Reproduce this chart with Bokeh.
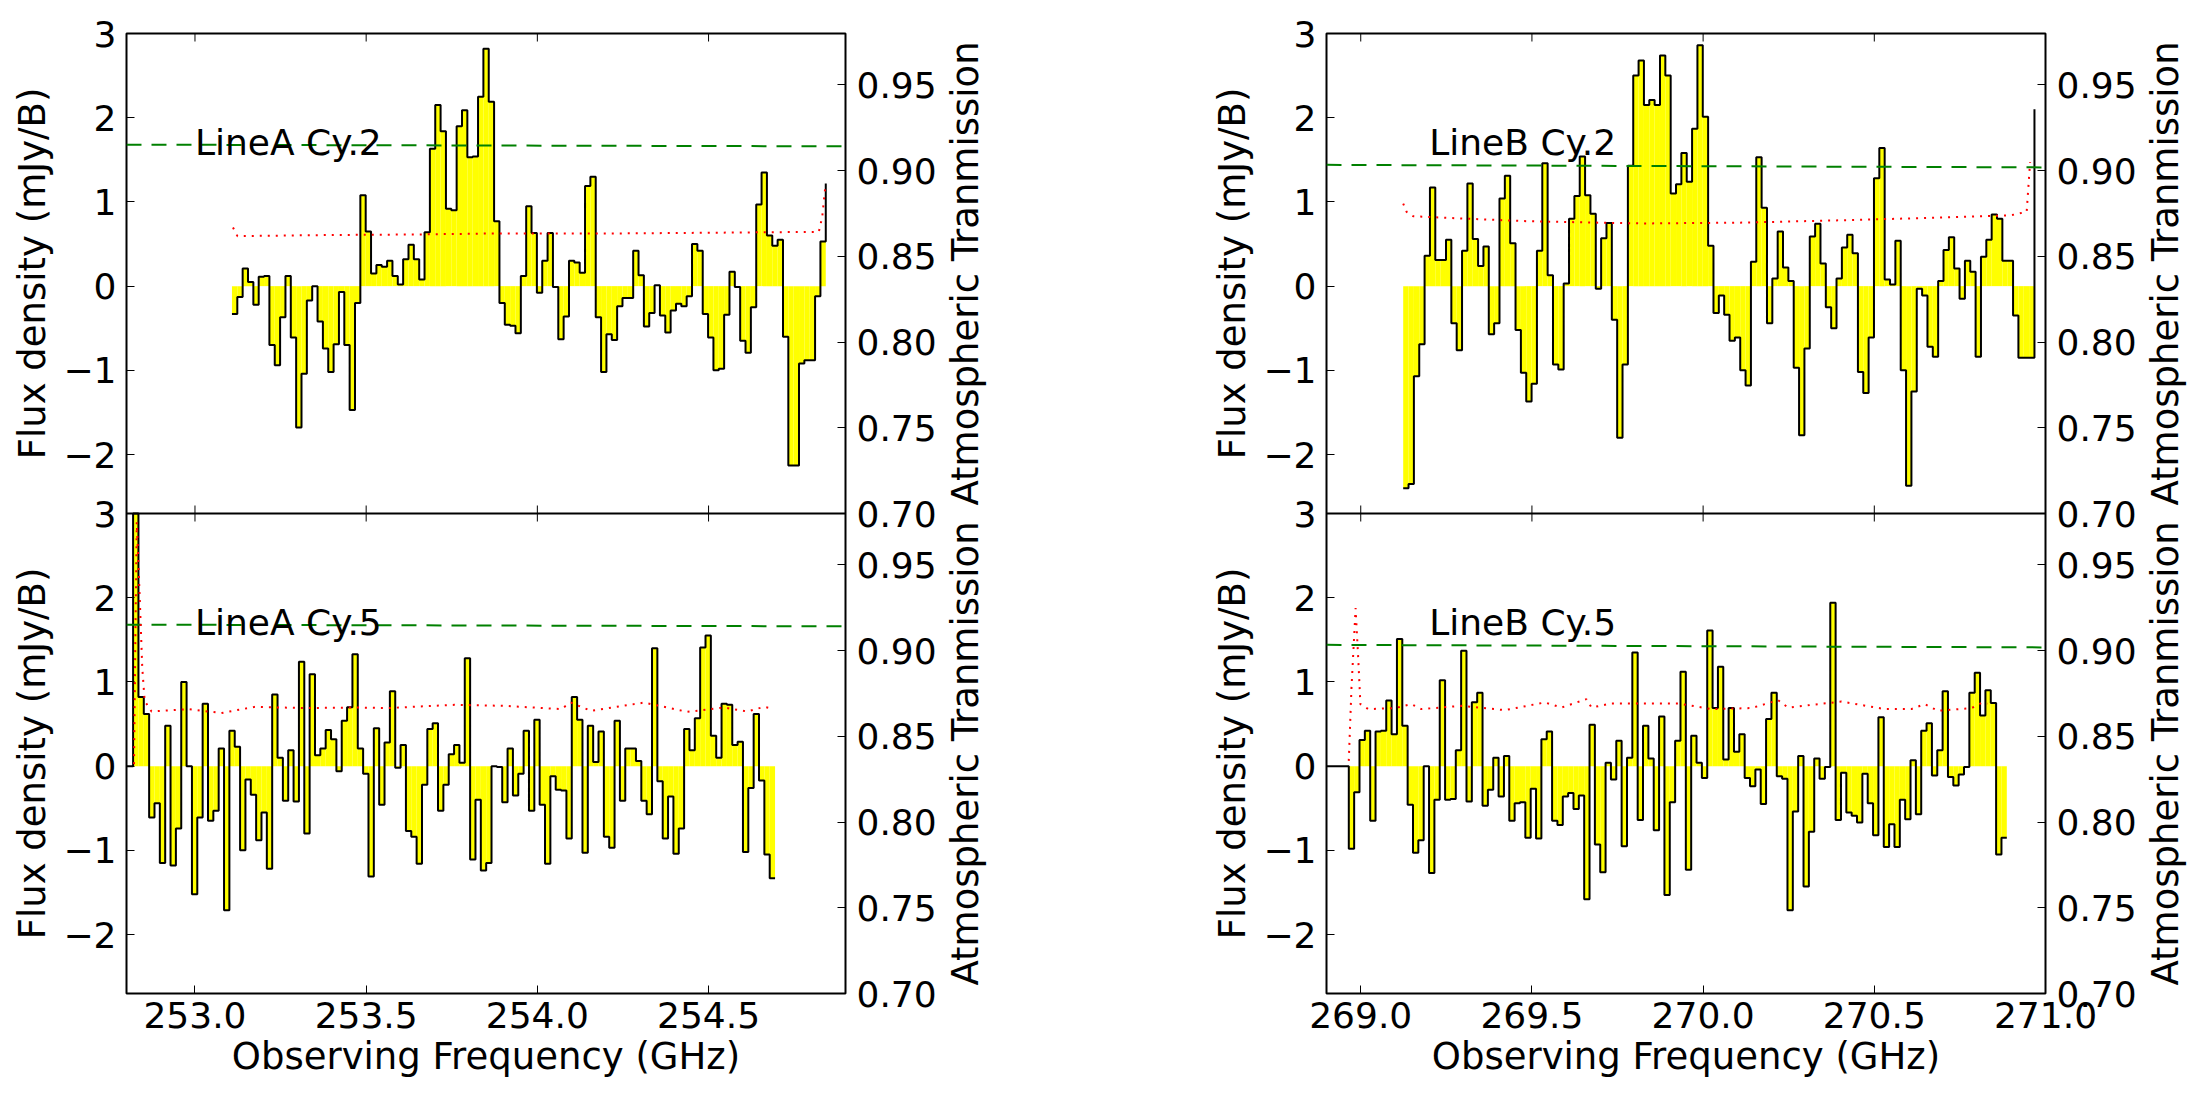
import math
import numpy as np
from bokeh.plotting import figure
from bokeh.models import (Range1d, LinearAxis, FixedTicker, Label, NumeralTickFormatter,
                          CustomJSTickFormatter, ColumnDataSource, Span, Spacer)
from bokeh.transform import dodge
from bokeh.layouts import column, row
from bokeh.embed import file_html
from bokeh.resources import INLINE

FONT = "DejaVu Sans"
DF = 0.015625  # channel width (GHz)

# ---------------- data ----------------
a2_start = 253.108
a2_flux = [-0.33, -0.13, 0.21, 0.05, -0.22, 0.11, 0.12, -0.70, -0.94, -0.37,
           0.12, -0.61, -1.68, -1.04, -0.17, 0.00, -0.42, -0.74, -1.02, -0.69,
           -0.07, -0.70, -1.47, -0.20, 1.08, 0.65, 0.15, 0.25, 0.23, 0.30,
           0.12, 0.02, 0.32, 0.49, 0.32, 0.08, 0.64, 1.63, 2.15, 1.84,
           0.92, 0.90, 1.90, 2.09, 1.53, 1.54, 2.25, 2.82, 2.19, 0.77,
           -0.20, -0.46, -0.47, -0.56, 0.12, 0.95, 0.63, -0.08, 0.30, 0.63,
           -0.01, -0.63, -0.36, 0.30, 0.28, 0.16, 1.19, 1.30, -0.37, -1.02,
           -0.57, -0.64, -0.24, -0.14, -0.14, 0.42, 0.13, -0.48, -0.32, 0.01,
           -0.35, -0.55, -0.29, -0.21, -0.24, -0.12, 0.50, 0.42, -0.33, -0.61,
           -1.00, -0.98, -0.34, 0.17, -0.01, -0.65, -0.79, -0.25, 0.97, 1.35,
           0.60, 0.48, 0.55, -0.60, -2.13, -2.13, -0.92, -0.88, -0.88, -0.12,
           0.53, 1.22]

a5_start = 252.788
a5_flux = [0.0, 0.0,
           4.0, 0.82, 0.62, -0.61, -0.44, -1.15, 0.48, -1.18, -0.74, 1.00,
           0.00, -1.52, -0.61, 0.74, -0.65, -0.53, 0.21, -1.71, 0.42, 0.23,
           -1.00, -0.16, -0.34, -0.88, -0.55, -1.22, 0.85, 0.10, -0.41, 0.19,
           -0.42, 1.24, -0.80, 1.09, 0.13, 0.21, 0.43, 0.32, -0.06, 0.54,
           0.70, 1.33, 0.21, -0.09, -1.31, 0.45, -0.46, 0.28, 0.89, -0.02,
           0.25, -0.77, -0.84, -1.16, -0.22, 0.44, 0.51, -0.53, -0.22, 0.14,
           0.25, 0.04, 1.28, -1.11, -0.40, -1.24, -1.15, 0.00, -0.01, -0.43,
           0.21, -0.35, -0.09, 0.42, -0.53, 0.55, -0.46, -1.16, -0.12, -0.28,
           -0.29, -0.86, 0.82, 0.55, -1.03, 0.48, 0.05, 0.41, -0.84, -0.97,
           0.54, -0.41, 0.21, 0.21, 0.06, -0.41, -0.57, 1.40, -0.18, -0.86,
           -0.36, -1.04, -0.74, 0.44, 0.19, 0.57, 1.41, 1.55, 0.36, 0.10,
           0.74, 0.73, 0.25, 0.29, -1.02, -0.26, 0.62, -0.17, -1.05, -1.33,
           -1.33]

b2_start = 269.124
b2_flux = [-2.40, -2.35, -1.07, -0.69, 0.36, 1.17, 0.31, 0.31, 0.55, -0.44,
           -0.76, 0.42, 1.22, 0.56, 0.24, 0.47, -0.57, -0.44, 1.04, 1.31,
           0.51, -0.52, -1.03, -1.37, -1.16, 0.42, 1.46, 0.13, -0.93, -0.99,
           0.03, 0.80, 1.07, 1.54, 1.08, 0.86, -0.03, 0.57, 0.75, -0.40,
           -1.80, -0.93, 1.43, 2.50, 2.68, 2.15, 2.21, 2.15, 2.74, 2.50,
           1.10, 1.21, 1.58, 1.24, 1.87, 2.86, 2.01, 0.48, -0.32, -0.11,
           -0.34, -0.65, -0.61, -1.00, -1.18, 0.29, 1.53, 0.93, -0.44, 0.09,
           0.65, 0.22, 0.06, -0.97, -1.77, -0.74, 0.59, 0.74, 0.27, -0.25,
           -0.50, 0.09, 0.46, 0.61, 0.39, -1.02, -1.27, -0.61, 1.28, 1.64,
           0.08, 0.02, 0.54, -1.00, -2.37, -1.25, -0.03, -0.11, -0.72, -0.84,
           0.06, 0.43, 0.58, 0.21, -0.15, 0.30, 0.17, -0.84,
           0.35, 0.55, 0.85, 0.80, 0.30, 0.30, -0.35, -0.85, -0.85, -0.85, 2.10]

b5_start = 268.887
b5_flux = [0.0, 0.0, 0.0, 0.0, 0.0,
           -0.98, -0.31, 0.31, 0.42, -0.65, 0.41, 0.42, 0.78, 0.38, 1.51,
           0.48, -0.46, -1.03, -0.88, 0.00, -1.27, -0.40, 1.02, -0.40, -0.39,
           0.19, 1.37, -0.42, 0.76, 0.87, -0.47, -0.28, 0.10, -0.36, 0.12,
           -0.65, -0.44, -0.43, -0.85, -0.27, -0.86, 0.32, 0.41, -0.65, -0.70,
           -0.36, -0.32, -0.51, -0.35, -1.58, 0.49, -0.93, -1.26, 0.04, -0.16,
           0.30, -0.95, 0.10,
           1.35, -0.64, 0.48, 0.09, -0.76, 0.59, -1.53, -0.43, 0.30, 1.12,
           -1.23, 0.36, 0.04, -0.14, 1.61, 0.69, 1.18, 0.08, 0.69, 0.17,
           0.38, -0.14, -0.24, -0.04, -0.45, 0.56, 0.87, -0.12, -0.15, -1.71,
           -0.54, 0.12, -1.43, -0.78, 0.09, -0.15, -0.01, 1.94, -0.64, -0.08,
           -0.55, -0.59, -0.67, -0.09, -0.44, -0.82, 0.58, -0.96, -0.69, -0.96,
           -0.40, -0.63, 0.07, -0.57, 0.42, 0.51, -0.11, 0.19, 0.89, -0.13,
           -0.23, -0.10, -0.01, 0.87, 1.11,
           0.60, 0.90, 0.75, -1.05, -0.85, -0.85]

# threshold lines (value at left edge, value at right edge)
a_thr = [1.68, 1.66]
b_thr = [1.44, 1.41]

# atmospheric transmission
a2_tr_f = [253.111, 253.124, 253.369, 253.660, 253.855, 254.195, 254.584, 254.822, 254.832, 254.837, 254.842]
a2_tr = [0.8668, 0.8618, 0.8624, 0.8628, 0.8633, 0.8633, 0.8639, 0.8643, 0.8730, 0.8828, 0.8925]

a5_tr_f = [252.822, 252.826, 252.830, 252.839, 252.846, 252.853, 252.873, 252.980, 253.077, 253.174,
           253.320, 253.466, 253.563, 253.758, 253.903, 254.069, 254.098, 254.156, 254.312, 254.438,
           254.545, 254.613, 254.662, 254.686]
a5_tr = [0.8338, 0.9096, 0.9750, 0.9291, 0.8902, 0.8707, 0.8645, 0.8659, 0.8636, 0.8672,
         0.8665, 0.8668, 0.8665, 0.8684, 0.8678, 0.8659, 0.8697, 0.8649, 0.8697, 0.8643,
         0.8668, 0.8645, 0.8672, 0.8662]

b2_tr_f = [269.124, 269.134, 269.153, 269.294, 269.489, 269.684, 269.830, 270.122, 270.414, 270.706,
           270.813, 270.900, 270.945, 270.955]
b2_tr = [0.8808, 0.8759, 0.8734, 0.8721, 0.8705, 0.8697, 0.8692, 0.8697, 0.8711, 0.8727,
         0.8734, 0.8740, 0.8760, 0.9050]

b5_tr_f = [268.965, 268.973, 268.985, 268.993, 268.999, 269.022, 269.100, 269.148, 269.177, 269.294,
           269.421, 269.538, 269.586, 269.659, 269.674, 269.732, 269.927, 270.025, 270.141, 270.219,
           270.248, 270.404, 270.531, 270.608, 270.647, 270.686, 270.784, 270.813, 270.830]
b5_tr = [0.8357, 0.8785, 0.9248, 0.8941, 0.8688, 0.8659, 0.8665, 0.8688, 0.8659, 0.8678,
         0.8653, 0.8698, 0.8668, 0.8717, 0.8668, 0.8692, 0.8692, 0.8659, 0.8665, 0.8711,
         0.8668, 0.8703, 0.8659, 0.8659, 0.8688, 0.8649, 0.8665, 0.8695, 0.8690]

a_xlim = (252.8, 254.9)
b_xlim = (268.9, 271.0)
a_xticks = [253.0, 253.5, 254.0, 254.5]
b_xticks = [269.0, 269.5, 270.0, 270.5, 271.0]
flux_ticks = [-2, -1, 0, 1, 2, 3]
flux_lim = (-2.7, 3.0)
tr_ticks = [0.70, 0.75, 0.80, 0.85, 0.90, 0.95]
tr_lim = (0.70, 0.98)

a2_name, a5_name, b2_name, b5_name = "LineA Cy.2", "LineA Cy.5", "LineB Cy.2", "LineB Cy.5"
a_label_x, b_label_x, label_y = 253.0, 269.2, 1.7

FLUX_LABEL = "Flux density (mJy/B)"
TR_LABEL = "Atmospheric Tranmission"
X_LABEL = "Observing Frequency (GHz)"

# the lower panel of each column is drawn in the same frame, one panel-height lower
SHIFT = flux_lim[0] - flux_lim[1]      # -5.7
TR_SHIFT = tr_lim[0] - tr_lim[1]       # -0.28


def style_axis(ax):
    ax.axis_line_color = None
    ax.major_tick_line_color = "black"
    ax.major_tick_line_width = 1
    ax.major_tick_in = 8
    ax.major_tick_out = 0
    ax.minor_tick_line_color = None
    ax.major_label_text_font = FONT
    ax.major_label_text_font_size = "36px"
    ax.major_label_text_color = "black"
    ax.axis_label_text_font = FONT
    ax.axis_label_text_font_size = "37px"
    ax.axis_label_text_font_style = "normal"
    ax.axis_label_text_color = "black"


def add_spectrum(p, start, flux, thr, tr_f, tr, name, label_x, xlim, shift, tr_shift):
    f = start + DF * np.arange(len(flux))
    v = np.minimum(np.array(flux, dtype=float), flux_lim[1])  # off-scale values stop at panel top
    qsrc = ColumnDataSource(dict(left=f[:-1], right=f[1:], top=v[:-1], bottom=np.zeros(len(f) - 1)))
    p.quad(left="left", right="right", top=dodge("top", shift), bottom=dodge("bottom", shift),
           source=qsrc, fill_color="yellow", line_color=None)
    ssrc = ColumnDataSource(dict(x=f, y=v))
    p.step(x="x", y=dodge("y", shift), source=ssrc, mode="after", line_color="black", line_width=2)
    gsrc = ColumnDataSource(dict(x=list(xlim), y=thr))
    p.line(x="x", y=dodge("y", shift), source=gsrc, line_color="#008000", line_width=2, line_dash="15 10")
    rsrc = ColumnDataSource(dict(x=tr_f, y=tr))
    p.line(x="x", y=dodge("y", tr_shift), source=rsrc, y_range_name="trans",
           line_color="red", line_width=2, line_dash="2 6")
    p.add_layout(Label(x=label_x, y=label_y + shift, text=name, text_font=FONT, text_font_size="36px",
                       text_color="black", text_baseline="alphabetic", text_align="left"))


def main_panel(xlim, xticks, top_spec, bot_spec, thr, label_x):
    p = figure(width=880, height=1100, x_range=Range1d(*xlim),
               y_range=Range1d(flux_lim[0] + SHIFT, flux_lim[1]),
               output_backend="svg", toolbar_location=None,
               x_axis_location=None, y_axis_location=None,
               min_border_left=65, min_border_right=95, min_border_top=33, min_border_bottom=107)
    p.extra_y_ranges = {"trans": Range1d(tr_lim[0] + TR_SHIFT, tr_lim[1])}
    p.xgrid.grid_line_color = None
    p.ygrid.grid_line_color = None
    p.outline_line_color = "black"
    p.outline_line_width = 2
    p.background_fill_color = "white"
    p.border_fill_color = "white"

    ly = LinearAxis(ticker=FixedTicker(ticks=flux_ticks + [t + SHIFT for t in flux_ticks]),
                    formatter=CustomJSTickFormatter(args=dict(shift=-SHIFT), code="""
                        const v = tick < -2.5 ? tick + shift : tick;
                        const r = Math.round(v);
                        return r < 0 ? "\u2212" + (-r) : "" + r;"""))
    style_axis(ly)
    ly.major_label_standoff = 10
    p.add_layout(ly, "left")

    ry = LinearAxis(y_range_name="trans",
                    ticker=FixedTicker(ticks=tr_ticks + [t + TR_SHIFT for t in tr_ticks]),
                    formatter=CustomJSTickFormatter(args=dict(shift=-TR_SHIFT), code="""
                        const v = tick < 0.695 ? tick + shift : tick;
                        return v.toFixed(2);"""))
    style_axis(ry)
    ry.major_label_standoff = 11
    p.add_layout(ry, "right")

    bx = LinearAxis(ticker=FixedTicker(ticks=xticks), formatter=NumeralTickFormatter(format="0.0"),
                    axis_label=X_LABEL)
    style_axis(bx)
    bx.major_label_standoff = 8
    bx.axis_label_standoff = 4
    p.add_layout(bx, "below")

    # inner tick marks on the top edge and on both sides of the panel boundary
    n = len(xticks)
    p.scatter(x=xticks, y=[flux_lim[1]] * n, marker="dash", size=16, angle=math.pi / 2,
              line_color="black", line_width=1)
    p.scatter(x=xticks, y=[flux_lim[0]] * n, marker="dash", size=16, angle=math.pi / 2,
              line_color="black", line_width=1)
    p.add_layout(Span(location=flux_lim[0], dimension="width", line_color="black", line_width=2))

    s0, f0, tf0, t0, n0 = top_spec
    add_spectrum(p, s0, f0, thr, tf0, t0, n0, label_x, xlim, 0.0, 0.0)
    s1, f1, tf1, t1, n1 = bot_spec
    add_spectrum(p, s1, f1, thr, tf1, t1, n1, label_x, xlim, SHIFT, TR_SHIFT)
    return p


def label_fig(text, top, width, border_left, standoff):
    h = 513 if top else 587
    d = figure(width=width, height=h, x_range=Range1d(0, 1), y_range=Range1d(0, 1),
               output_backend="svg", toolbar_location=None,
               x_axis_location=None, y_axis_location=None,
               min_border_left=border_left, min_border_right=0,
               min_border_top=(33 if top else 0), min_border_bottom=(0 if top else 107))
    d.outline_line_color = None
    d.xgrid.grid_line_color = None
    d.ygrid.grid_line_color = None
    d.border_fill_color = "white"
    d.background_fill_color = "white"
    ax = LinearAxis(ticker=FixedTicker(ticks=[]), axis_label=text)
    ax.axis_line_color = None
    ax.major_tick_line_color = None
    ax.minor_tick_line_color = None
    ax.major_tick_in = 0
    ax.major_tick_out = 0
    ax.major_label_standoff = 0
    ax.axis_label_standoff = standoff
    ax.axis_label_text_font = FONT
    ax.axis_label_text_font_size = "37px"
    ax.axis_label_text_font_style = "normal"
    ax.axis_label_text_color = "black"
    d.add_layout(ax, "left")
    return d


def column_block(xlim, xticks, top_spec, bot_spec, thr, label_x):
    left_labels = column(label_fig(FLUX_LABEL, True, 60, 58, 5),
                         label_fig(FLUX_LABEL, False, 60, 58, 5), spacing=0)
    main = main_panel(xlim, xticks, top_spec, bot_spec, thr, label_x)
    right_labels = column(label_fig(TR_LABEL, True, 52, 48, 4),
                          label_fig(TR_LABEL, False, 52, 48, 4), spacing=0)
    return [left_labels, main, right_labels]


left_block = column_block(a_xlim, a_xticks,
                          (a2_start, a2_flux, a2_tr_f, a2_tr, a2_name),
                          (a5_start, a5_flux, a5_tr_f, a5_tr, a5_name), a_thr, a_label_x)
right_block = column_block(b_xlim, b_xticks,
                           (b2_start, b2_flux, b2_tr_f, b2_tr, b2_name),
                           (b5_start, b5_flux, b5_tr_f, b5_tr, b5_name), b_thr, b_label_x)

layout = row(*left_block, Spacer(width=208, height=1100), *right_block, spacing=0)
open("out.html", "w").write(file_html(layout, INLINE))
